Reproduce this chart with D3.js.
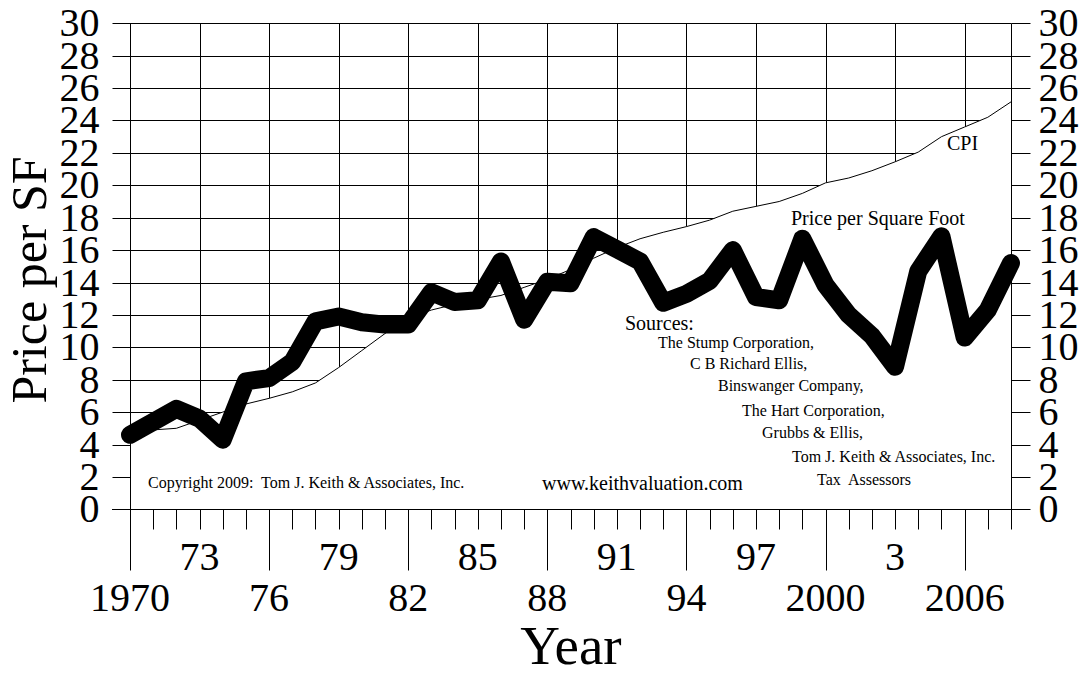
<!DOCTYPE html>
<html>
<head>
<meta charset="utf-8">
<script src="https://cdn.jsdelivr.net/npm/d3@7"></script>
<style>
  html, body { margin: 0; padding: 0; background: #fff; }
  svg { display: block; }
  text { font-family: "Liberation Serif", "Times New Roman", serif; fill: #000; }
</style>
</head>
<body>
<svg id="chart" width="1081" height="675"></svg>
<script>
// ---- Data ----
const years = d3.range(1970, 2009);
const pricePerSF = [4.6, 5.4, 6.2, 5.6, 4.3, 7.9, 8.1, 9.1, 11.6, 11.9,
  11.55, 11.4, 11.4, 13.4, 12.8, 12.9, 15.3, 11.7, 14.05, 13.95,
  16.8, 16.05, 15.3, 12.75, 13.3, 14.1, 16.0, 13.1, 12.9, 16.7,
  13.85, 12.0, 10.7, 8.8, 14.7, 16.85, 10.6, 12.3, 15.2];
const cpi = [4.7, 4.9, 5.0, 5.5, 6.0, 6.5, 6.85, 7.25, 7.8, 8.75,
  9.8, 10.85, 11.8, 12.3, 12.65, 12.95, 13.2, 13.7, 14.2, 14.8,
  15.5, 16.15, 16.7, 17.1, 17.45, 17.85, 18.4, 18.7, 19.0, 19.5,
  20.15, 20.45, 20.9, 21.45, 22.05, 23.0, 23.6, 24.2, 25.15];
const yTicks = d3.range(0, 31, 2);
const gridYears = d3.range(1973, 2008, 3);
const majorYears = [1970, 1976, 1982, 1988, 1994, 2000, 2006];
const majorLabels = ["1970", "76", "82", "88", "94", "2000", "2006"];
const midYears = [1973, 1979, 1985, 1991, 1997, 2003];
const midLabels = ["73", "79", "85", "91", "97", "3"];
const sources = ["The Stump Corporation,", "C B Richard Ellis,", "Binswanger Company,",
  "The Hart Corporation,", "Grubbs & Ellis,", "Tom J. Keith & Associates, Inc.", "Tax  Assessors"];

// ---- Scales ----
const x = d3.scaleLinear().domain([1970, 2008]).range([130, 1011]);
const y = d3.scaleLinear().domain([0, 30]).range([509.3, 23.3]);
const svg = d3.select("#chart");
const crisp = v => Math.round(v) + 0.5;

// ---- Grid ----
const grid = svg.append("g").attr("stroke", "#000").attr("stroke-width", 1);
grid.selectAll("line.h").data(yTicks.filter(v => v > 0)).join("line")
  .attr("x1", x(1970)).attr("x2", x(2008))
  .attr("y1", d => crisp(y(d))).attr("y2", d => crisp(y(d)));
grid.selectAll("line.v").data(gridYears).join("line")
  .attr("x1", d => crisp(x(d))).attr("x2", d => crisp(x(d)))
  .attr("y1", y(30)).attr("y2", y(0));

// ---- CPI area (white fill hides grid) ----
const cpiData = years.map((yr, i) => ({ yr, v: cpi[i] }));
svg.append("path").datum(cpiData)
  .attr("fill", "#fff")
  .attr("d", d3.area().x(d => x(d.yr)).y0(y(0)).y1(d => y(d.v)));
svg.append("path").datum(cpiData)
  .attr("fill", "none").attr("stroke", "#000").attr("stroke-width", 1)
  .attr("d", d3.line().x(d => x(d.yr)).y(d => y(d.v)));

// ---- Axes ----
const leftAxis = svg.append("g").attr("transform", `translate(${crisp(x(1970))},0)`)
  .call(d3.axisLeft(y).tickValues(yTicks).tickSize(18).tickPadding(13).tickFormat(d3.format("d")));
const rightAxis = svg.append("g").attr("transform", `translate(${crisp(x(2008))},0)`)
  .call(d3.axisRight(y).tickValues(yTicks).tickSize(19).tickPadding(8).tickFormat(d3.format("d")));
[leftAxis, rightAxis].forEach(g => {
  g.select(".domain").remove();
  g.selectAll(".tick").attr("transform", d => `translate(0,${crisp(y(d))})`);
  g.selectAll(".tick line").attr("stroke", "#000");
  g.selectAll(".tick text").attr("font-size", 40).attr("dy", "0.3em")
    .style("font-family", "'Liberation Serif', serif");
});

// bottom minor ticks (every year) and major ticks (every 6 years)
const minorAxis = svg.append("g").attr("transform", `translate(0,${crisp(y(0))})`)
  .call(d3.axisBottom(x).tickValues(years.filter(v => !majorYears.includes(v))).tickSize(20).tickFormat(""));
minorAxis.select(".domain").remove();
const majorAxis = svg.append("g").attr("transform", `translate(0,${crisp(y(0))})`)
  .call(d3.axisBottom(x).tickValues(majorYears).tickSize(61).tickFormat(""));
majorAxis.select(".domain").remove();
[minorAxis, majorAxis].forEach(g => {
  g.selectAll(".tick").attr("transform", d => `translate(${crisp(x(d))},0)`);
  g.selectAll(".tick line").attr("stroke", "#000");
});

// frame lines
const frame = svg.append("g").attr("stroke", "#000").attr("stroke-width", 1);
frame.append("line").attr("x1", 112).attr("x2", 1030)
  .attr("y1", crisp(y(0))).attr("y2", crisp(y(0)));
frame.append("line").attr("x1", crisp(x(1970))).attr("x2", crisp(x(1970)))
  .attr("y1", y(30)).attr("y2", y(0));
frame.append("line").attr("x1", crisp(x(2008))).attr("x2", crisp(x(2008)))
  .attr("y1", y(30)).attr("y2", y(0));
frame.append("line").attr("x1", x(1970)).attr("x2", x(2008))
  .attr("y1", crisp(y(30))).attr("y2", crisp(y(30)));

// x labels
svg.append("g").selectAll("text").data(midYears).join("text")
  .attr("x", d => x(d)).attr("y", 570).attr("text-anchor", "middle").attr("font-size", 40)
  .text((d, i) => midLabels[i]);
svg.append("g").selectAll("text").data(majorYears).join("text")
  .attr("x", d => x(d)).attr("y", 611).attr("text-anchor", "middle").attr("font-size", 40)
  .text((d, i) => majorLabels[i]);

// ---- Price line ----
svg.append("path").datum(years.map((yr, i) => ({ yr, v: pricePerSF[i] })))
  .attr("fill", "none").attr("stroke", "#000").attr("stroke-width", 18)
  .attr("stroke-linejoin", "round").attr("stroke-linecap", "round")
  .attr("d", d3.line().x(d => x(d.yr)).y(d => y(d.v)));

// ---- Titles & annotations ----
svg.append("text").attr("transform", "translate(46,280) rotate(-90)")
  .attr("text-anchor", "middle").attr("font-size", 50).text("Price per SF");
svg.append("text").attr("x", 571).attr("y", 664).attr("text-anchor", "middle")
  .attr("font-size", 55).text("Year");
svg.append("text").attr("x", 947).attr("y", 150).attr("font-size", 20).text("CPI");
svg.append("text").attr("x", 791).attr("y", 225).attr("font-size", 20).text("Price per Square Foot");
svg.append("text").attr("x", 625).attr("y", 330).attr("font-size", 20).text("Sources:");
const srcX = [658, 690, 718, 742, 762, 792, 817];
const srcY = [348, 369, 391, 416, 438, 462, 485];
svg.append("g").selectAll("text").data(sources).join("text")
  .attr("x", (d, i) => srcX[i]).attr("y", (d, i) => srcY[i]).attr("font-size", 16)
  .style("white-space", "pre").text(d => d);
svg.append("text").attr("x", 148).attr("y", 488).attr("font-size", 16)
  .style("white-space", "pre").text("Copyright 2009:  Tom J. Keith & Associates, Inc.");
svg.append("text").attr("x", 542).attr("y", 490).attr("font-size", 20)
  .text("www.keithvaluation.com");
</script>
</body>
</html>
